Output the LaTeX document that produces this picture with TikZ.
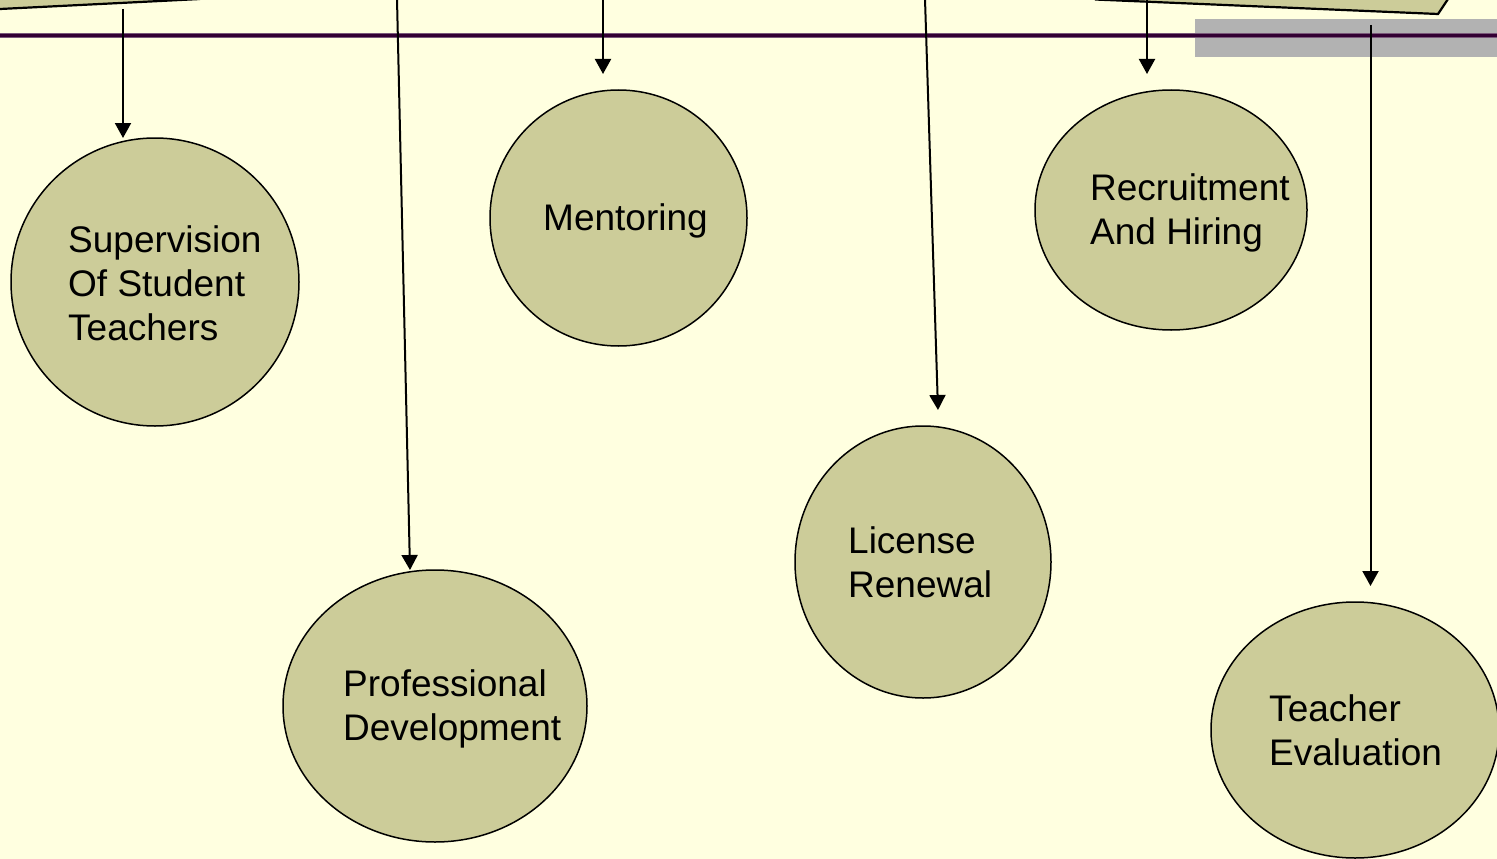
\documentclass[tikz,border=0pt]{standalone}
\usepackage{fontspec}
\setmainfont{Liberation Sans}
\usetikzlibrary{shapes.geometric,arrows.meta}
\definecolor{bgyellow}{HTML}{FFFFE0}
\definecolor{khaki}{HTML}{CCCC99}
\definecolor{barpurple}{HTML}{330033}
\definecolor{bargray}{HTML}{B2B2B2}
\tikzset{
  bubble/.style={ellipse, draw=black, line width=1.5pt, fill=khaki, inner sep=0pt},
  label/.style={anchor=west, align=left, inner sep=0pt, font=\fontsize{37}{44}\selectfont},
  link/.style={line width=2pt, -{Triangle[length=15pt,width=16pt]}},
}
\begin{document}
\begin{tikzpicture}[x=1pt,y=-1pt]
\useasboundingbox (0,0) rectangle (1497,859);
\fill[bgyellow] (0,0) rectangle (1497,859);
\begin{scope}
\clip (0,0) rectangle (1497,859);
% top partial shapes
\fill[khaki] (0,-20) -- (0,9) -- (200,-1) -- (200,-20) -- cycle;
\draw[line width=2.2pt] (0,9) -- (200,-1);
\fill[khaki] (1095,-20) -- (1095,-0.5) -- (1438,14) -- (1448,-1) -- (1448,-20) -- cycle;
\draw[line width=2.2pt] (1095,-0.5) -- (1438,14) -- (1448,-1);
% gray rectangle and purple bar
\fill[bargray] (1195,19) rectangle (1500,57.5);
\draw[line width=5pt, color=barpurple!65!white] (0,35.5) -- (1497,35.5);
\draw[line width=3.2pt, color=barpurple] (0,35.5) -- (1497,35.5);

% bubbles
\node[bubble, minimum width=288pt, minimum height=288pt] (sup) at (155,282) {};
\node[bubble, minimum width=304pt, minimum height=272pt] (pro) at (435,706) {};
\node[bubble, minimum width=257pt, minimum height=256pt] (men) at (618.5,218) {};
\node[bubble, minimum width=256pt, minimum height=272pt] (lic) at (923,562) {};
\node[bubble, minimum width=272pt, minimum height=240pt] (rec) at (1171,210) {};
\node[bubble, minimum width=288pt, minimum height=256pt] (tea) at (1355,730) {};

% labels
\node[label] (supt) at (68,283) {Supervision\\Of Student\\Teachers};
\node[label] (prot) at (343,708.5) {Professional\\Development};
\node[label] (ment) at (543,221) {Mentoring};
\node[label] (lict) at (848,562.5) {License\\Renewal};
\node[label] (rect) at (1090,213) {Recruitment\\And Hiring};
\node[label] (teat) at (1269,730.5) {Teacher\\Evaluation};

% connector endpoints
\coordinate (s1) at (123,9);     \coordinate (e1) at (123,138);
\coordinate (s2) at (397,-1);    \coordinate (e2) at (410,570);
\coordinate (s3) at (603,-1);    \coordinate (e3) at (603,74);
\coordinate (s4) at (925,-1);    \coordinate (e4) at (938,410);
\coordinate (s5) at (1147,0);    \coordinate (e5) at (1147,74);
\coordinate (s6) at (1370.5,25); \coordinate (e6) at (1370.5,586);

\draw[link] (s1) -- (e1);
\draw[link] (s2) -- (e2);
\draw[link] (s3) -- (e3);
\draw[link] (s4) -- (e4);
\draw[link] (s5) -- (e5);
\draw[link] (s6) -- (e6);
\end{scope}
\end{tikzpicture}
\end{document}
